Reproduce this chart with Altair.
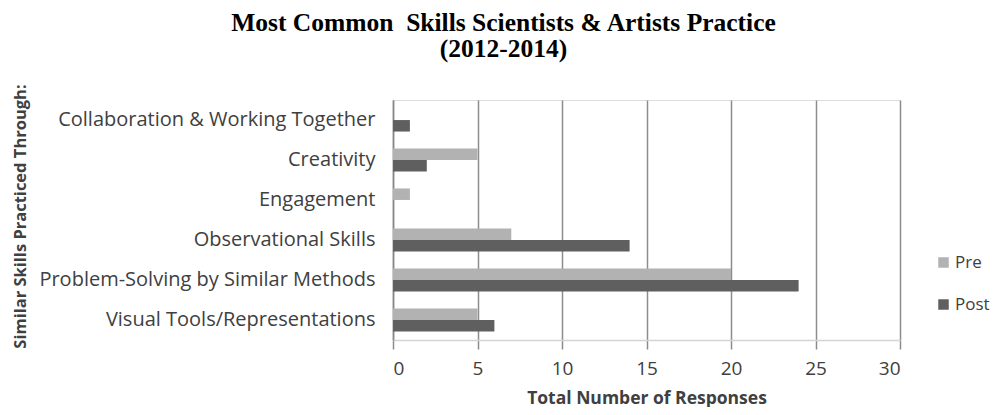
import altair as alt
import pandas as pd

categories = [
    "Collaboration & Working Together",
    "Creativity",
    "Engagement",
    "Observational Skills",
    "Problem-Solving by Similar Methods",
    "Visual Tools/Representations",
]
pre_values = [0, 5, 1, 7, 20, 5]
post_values = [1, 2, 0, 14, 24, 6]
series = ["Pre", "Post"]
series_colors = ["#b2b2b2", "#5f5f5f"]
x_ticks = [0, 5, 10, 15, 20, 25, 30]

rows = []
for c, a, b in zip(categories, pre_values, post_values):
    rows.append({"skill": c, "series": "Pre", "value": a})
    rows.append({"skill": c, "series": "Post", "value": b})
df = pd.DataFrame(rows)

label_font = "Open Sans"

bars = alt.Chart(df).mark_bar(size=11.5).encode(
    y=alt.Y(
        "skill:N",
        sort=categories,
        scale=alt.Scale(paddingInner=0.42, paddingOuter=0.21),
        axis=alt.Axis(
            title="Similar Skills  Practiced Through:",
            titleFont=label_font,
            titleFontWeight="bold",
            titleFontSize=16.5,
            titleColor="#404040",
            titleX=-373,
            titleY=116,
            titleAngle=-90,
            titleAlign="center",
            titleBaseline="middle",
            labelFont=label_font,
            labelFontSize=20,
            labelColor="#404040",
            labelPadding=18,
            ticks=False,
            domainColor="#868686",
            domainWidth=1.5,
            labelLimit=400,
        ),
    ),
    yOffset=alt.YOffset("series:N", sort=series, scale=alt.Scale(domain=series, paddingInner=0, paddingOuter=0)),
    x=alt.X(
        "value:Q",
        scale=alt.Scale(domain=[0, 30], nice=False),
        axis=alt.Axis(
            title="Total Number of Responses",
            titleFont=label_font,
            titleFontWeight="bold",
            titleFontSize=17.5,
            titleColor="#404040",
            titlePadding=11,
            values=x_ticks,
            labelFont=label_font,
            labelFontSize=19,
            labelColor="#404040",
            labelPadding=10,
            tickSize=9,
            tickColor="#8c8c8c",
            tickWidth=1.5,
            grid=True,
            gridColor="#8c8c8c",
            gridWidth=1.5,
            domainColor="#d4d4d4",
            domainWidth=1.5,
        ),
    ),
    color=alt.Color(
        "series:N",
        sort=series,
        scale=alt.Scale(domain=series, range=series_colors),
        legend=alt.Legend(
            title=None,
            orient="none",
            legendX=542,
            legendY=154,
            symbolType="square",
            symbolSize=110,
            symbolStrokeWidth=0,
            labelFont=label_font,
            labelFontSize=17,
            labelColor="#404040",
            rowPadding=24,
            labelOffset=3,
        ),
    ),
).properties(
    width=507,
    height=240,
    title=alt.TitleParams(
        text=["Most Common\u00a0 Skills Scientists & Artists Practice", "(2012-2014)"],
        font="Liberation Serif",
        fontSize=25.5,
        fontWeight="bold",
        color="#000000",
        anchor="middle",
        dx=-143,
        offset=19,
        lineHeight=26.5,
    ),
)

chart = bars.properties(
    autosize=alt.AutoSizeParams(type="none"),
    padding={"left": 385, "top": 92, "right": 90, "bottom": 67},
).configure_view(stroke="#d4d4d4", strokeWidth=1.5).configure(background="white")

chart.save("out.html", embed_options={"renderer": "svg", "actions": False})
